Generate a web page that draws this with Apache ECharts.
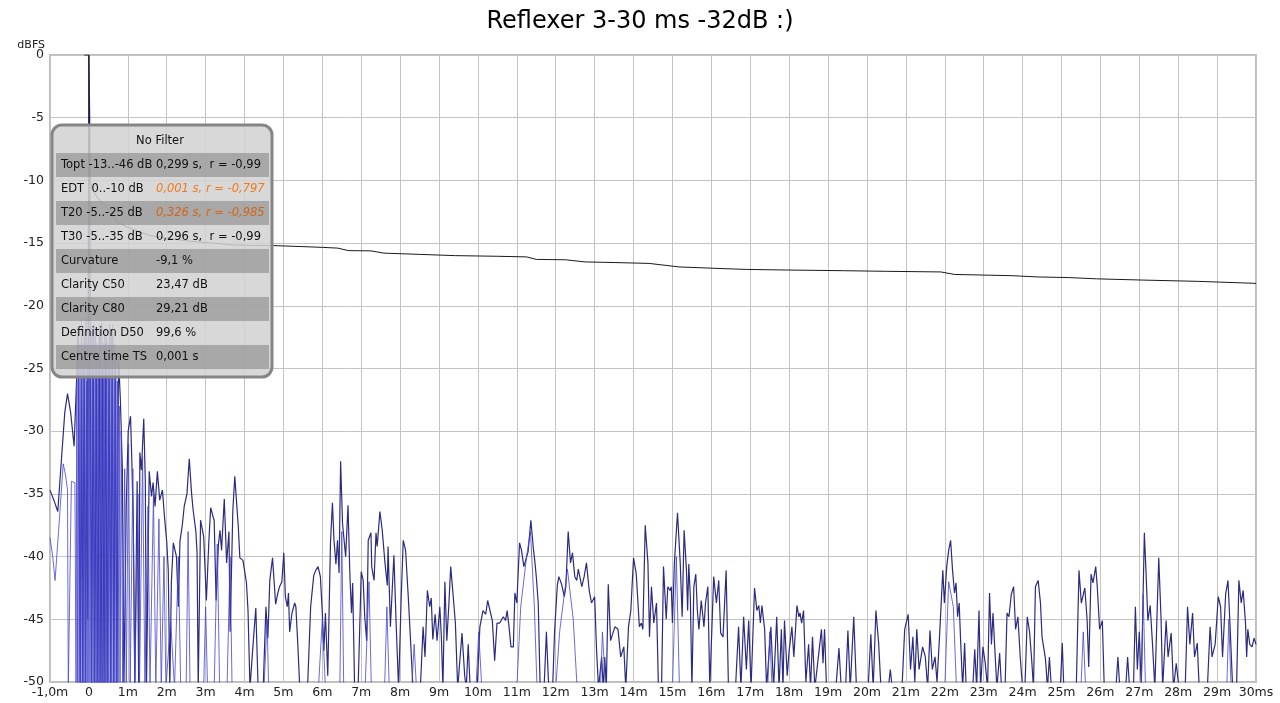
<!DOCTYPE html>
<html>
<head>
<meta charset="utf-8">
<script src="https://cdn.jsdelivr.net/npm/echarts@6/dist/echarts.min.js"></script>
<style>
html,body{margin:0;padding:0;background:#fff;}
#chart{width:1280px;height:703px;}
</style>
</head>
<body>
<div id="chart"></div>
<script>
// ---------- DATA ----------
const chartTitle = "Reflexer 3-30 ms -32dB :)";
const yTicks = [0, -5, -10, -15, -20, -25, -30, -35, -40, -45, -50];

// ETC (dark trace) [time ms, dBFS]
const etcDarkEarly = [
 [-1.0,-34.7],[-0.9,-35.5],[-0.8,-36.4],[-0.7,-32],[-0.62,-28.5],[-0.55,-27.0],[-0.47,-28.5],[-0.38,-31.2],
 [-0.32,-26.2],[-0.28,-22],[-0.25,-35],[-0.22,-50.5],[-0.19,-24],[-0.16,-50.5],[-0.12,-22.5],[-0.09,-50.5],
 [-0.05,-26],[-0.03,-45],[-0.01,-10],[0.0,0],[0.02,-5],[0.04,-26],[0.07,-50.5],[0.11,-23],[0.15,-50.5],
 [0.19,-24],[0.23,-50.5],[0.27,-22],[0.31,-50.5],[0.35,-25],[0.39,-50.5],[0.43,-23],[0.47,-50.5],[0.52,-24],
 [0.56,-50.5],[0.6,-22.5],[0.64,-50.5],[0.68,-25],[0.72,-50.5],[0.76,-24],[0.81,-27.6],[0.86,-33],[0.9,-50.5],
 [0.96,-36],[1.01,-30],[1.07,-28.8],[1.1,-32],[1.14,-37],[1.18,-50.5],[1.24,-34],[1.28,-50.5],[1.31,-31.7],
 [1.35,-33.1],[1.41,-29.0],[1.45,-34],[1.48,-50.5],[1.55,-33.2],[1.61,-35.2],[1.65,-34.1],[1.7,-36],[1.76,-33.2],
 [1.82,-35.5],[1.89,-34.7],[1.95,-37.1],[2.0,-38.8],[2.04,-41.1],[2.08,-50.5],[2.12,-42],[2.17,-38.9],[2.25,-40],
 [2.3,-44],[2.34,-38.8],[2.4,-37.5],[2.45,-36.0],[2.52,-35],[2.58,-32.2],[2.64,-35],[2.68,-36.3],[2.75,-38],
 [2.78,-39.7],[2.81,-50.5],[2.87,-37.1],[2.92,-37.9],[2.95,-38.4],[3.02,-43.5],[3.08,-39],[3.13,-36.1],[3.19,-36.8],
 [3.22,-37.1],[3.27,-43.5],[3.33,-39],[3.37,-37.9],[3.41,-39.5],[3.48,-35.4],[3.54,-40.5],[3.6,-38.0],[3.63,-46],
 [3.7,-36.3],[3.75,-33.6],[3.81,-36.3],[3.84,-37.6],[3.88,-40.1],[3.96,-40.3],[4.0,-41.1],[4.05,-42.1],[4.09,-44.3],
 [4.14,-50.5],[4.22,-47],[4.29,-44.1],[4.35,-50.5],[4.48,-50.5],[4.55,-44],[4.6,-46.5],[4.65,-41.9],[4.72,-40.1],
 [4.8,-43.8],[4.85,-43],[4.9,-42.4],[4.96,-42],[5.01,-39.7],[5.05,-43.2],[5.1,-44],[5.13,-42.9],[5.16,-46],
 [5.22,-44.5],[5.29,-43.7],[5.32,-44],[5.37,-47],[5.42,-50.5]
];
const etcDarkMid = [
 [5.62,-50.5],[5.7,-44],[5.78,-41.5],[5.83,-41.1],[5.89,-40.8],[5.95,-41.6],[6.0,-44.5],[6.04,-47.5],[6.08,-44.5],
 [6.14,-49.5],[6.21,-38.9],[6.26,-35.7],[6.3,-38.7],[6.35,-40.6],[6.39,-38.7],[6.43,-41.3],[6.47,-32.4],[6.52,-37.4],
 [6.56,-38.7],[6.6,-40],[6.66,-35.9],[6.71,-41.6],[6.75,-44.5],[6.78,-42.1],[6.83,-50.5],[6.92,-50.5],[7.0,-41.2],
 [7.05,-41.9],[7.09,-44.8],[7.14,-46.7],[7.18,-38.7],[7.25,-38.1],[7.27,-40.8],[7.33,-41.9],[7.38,-38.1],[7.41,-39.2],
 [7.48,-36.4],[7.54,-37.9],[7.61,-40.5],[7.67,-42.3],[7.69,-39.2],[7.75,-45.6],[7.84,-39.9],[7.9,-45.6],[7.96,-50.5],
 [8.03,-43],[8.08,-38.7],[8.14,-39.5],[8.2,-42.7],[8.24,-45],[8.29,-45],[8.33,-50.5],[8.52,-50.5],[8.59,-45.6],
 [8.64,-48],[8.7,-42.7],[8.76,-44],[8.8,-43.3],[8.84,-46.6],[8.9,-44.6],[8.95,-46.7],[9.02,-44],[9.06,-46.4],
 [9.1,-50.5],[9.15,-42.0],[9.2,-46.7],[9.25,-44],[9.3,-40.8],[9.36,-43],[9.42,-45.3],[9.48,-50.5],[9.59,-46.1],
 [9.66,-49.5],[9.7,-50.5],[9.75,-47],[9.8,-50.5],[9.98,-50.5],[10.05,-45.6],[10.13,-44.3],[10.2,-44.6],[10.25,-43.5],
 [10.3,-43.5],[10.37,-45.1],[10.43,-48.3],[10.49,-45.3],[10.56,-45.3],[10.65,-44.8],[10.71,-45.1],[10.75,-44.3],
 [10.8,-45.6],[10.85,-47.2],[10.91,-47.2],[10.95,-42.9],[11.0,-43.7],[11.07,-38.9],[11.12,-39.5],[11.18,-40.8],
 [11.23,-40.8],[11.29,-39.6],[11.36,-37.1],[11.42,-39.2],[11.46,-40.3],[11.5,-41.6],[11.55,-43.7],[11.6,-50.5],
 [11.7,-50.5],[11.76,-46],[11.82,-50.5],[11.92,-50.5],[11.97,-46],[12.04,-42.3],[12.08,-41.6],[12.15,-42.2],
 [12.22,-43.2],[12.26,-42.4],[12.32,-38.0],[12.38,-40.5],[12.43,-39.7],[12.49,-41.6],[12.54,-41.9],[12.58,-41],
 [12.67,-42.4],[12.73,-41.6],[12.79,-40.5],[12.86,-42.7],[12.92,-43.7],[13.0,-43.2],[13.05,-47.5],[13.1,-50.5],
 [13.18,-48],[13.22,-50.5],[13.26,-48],[13.3,-50.5],[13.35,-42.2],[13.41,-46.7],[13.48,-46],[13.52,-45.6],
 [13.6,-45.8],[13.67,-48],[13.75,-47.2],[13.8,-50.5],[13.87,-45.6],[13.93,-44.3],[14.0,-40.1],[14.07,-41.4],
 [14.15,-45.6],[14.2,-45.3],[14.24,-45.8],[14.3,-37.5],[14.37,-40.5],[14.41,-46.4],[14.46,-42.4],[14.52,-45.3],
 [14.59,-43.7],[14.64,-50.5]
];
const etcDarkLate = [
 [14.72,-50.5],[14.77,-40.8],[14.84,-45],[14.88,-42.4],[14.94,-42.7],[14.97,-42.4],[15.0,-45.3],[15.05,-40.5],
 [15.13,-36.5],[15.2,-40.5],[15.25,-44.8],[15.3,-37.9],[15.36,-41.1],[15.39,-44.3],[15.42,-40.6],[15.46,-43.2],
 [15.5,-50.5],[15.55,-42.4],[15.6,-41.4],[15.64,-44.3],[15.68,-45.8],[15.74,-43.5],[15.81,-45.6],[15.85,-43.7],
 [15.91,-42.4],[15.96,-50.5],[16.06,-41.6],[16.13,-43.7],[16.19,-41.9],[16.24,-46.1],[16.3,-46.4],[16.38,-41.1],
 [16.44,-50.5],[16.62,-50.5],[16.7,-45.6],[16.76,-50.5],[16.83,-44.8],[16.9,-49],[16.96,-45.1],[17.02,-50.5],
 [17.11,-42.5],[17.17,-44.3],[17.22,-43.9],[17.26,-45.3],[17.3,-43.9],[17.37,-45.8],[17.42,-50.5],[17.53,-45.6],
 [17.6,-50.5],[17.68,-44.8],[17.74,-50.5],[17.8,-45.8],[17.84,-50.5],[17.88,-45.1],[17.95,-49.5],[18.0,-47.5],
 [18.07,-45.6],[18.12,-48],[18.2,-43.9],[18.25,-44.8],[18.28,-44.5],[18.32,-45.3],[18.37,-44.3],[18.43,-50],
 [18.5,-47],[18.55,-50.5],[18.6,-46.4],[18.66,-50.5],[18.83,-45.8],[18.87,-48.5],[18.91,-45.8],[18.96,-50.5],
 [19.2,-50.5],[19.28,-47.3],[19.34,-50.5],[19.45,-50.5],[19.51,-45.9],[19.57,-50.5],[19.66,-44.8],[19.73,-50.5],
 [20.03,-50.5],[20.1,-46.2],[20.16,-50.5],[20.23,-44.3],[20.3,-46.9],[20.36,-50.5],[20.55,-50.5],[20.6,-49],
 [20.65,-50.5],[20.9,-50.5],[20.97,-45.8],[21.06,-44.6],[21.12,-49],[21.18,-46.4],[21.23,-50],[21.28,-45.8],
 [21.34,-49],[21.43,-47.2],[21.5,-48],[21.56,-50.5],[21.62,-45.9],[21.68,-49],[21.75,-48],[21.8,-50],[21.86,-46.7],
 [21.95,-41.1],[21.99,-43.7],[22.05,-40.8],[22.1,-39.5],[22.15,-38.7],[22.2,-41.1],[22.25,-42.9],[22.29,-42.1],
 [22.33,-44.8],[22.37,-43.7],[22.41,-46.9],[22.46,-50.5],[22.51,-46.9],[22.55,-50.5],[22.72,-50.5],[22.77,-47.4],
 [22.82,-50.5],[22.88,-44.3],[22.92,-50.5],[22.98,-47.2],[23.04,-48.5],[23.1,-50.5],[23.15,-42.9],[23.2,-47],
 [23.24,-44.5],[23.28,-47],[23.34,-50.5],[23.41,-47.7],[23.46,-50.5],[23.55,-50.5],[23.6,-44.5],[23.65,-44.8],
 [23.71,-43],[23.77,-42.4],[23.82,-45.8],[23.88,-44.8],[23.94,-48],[24.0,-50.5],[24.06,-50.5],[24.12,-44.8],
 [24.18,-46],[24.24,-48.5],[24.28,-50.5],[24.33,-42.4],[24.4,-41.9],[24.46,-43.7],[24.5,-46.4],[24.59,-48.2],
 [24.64,-50.5],[24.69,-48],[24.74,-50.5],[24.97,-50.5],[25.02,-46.9],[25.06,-50.5],[25.38,-50.5],[25.45,-41.1],
 [25.51,-43.7],[25.6,-42.5],[25.66,-45.1],[25.7,-48.8],[25.76,-41.4],[25.81,-42.1],[25.88,-40.8],[25.92,-42.4],
 [25.98,-45.8],[26.05,-45.1],[26.1,-50.5],[26.4,-50.5],[26.45,-48],[26.5,-50.5],[26.65,-50.5],[26.7,-48],
 [26.75,-50.5],[26.85,-50.5],[26.9,-44],[26.95,-49],[27.0,-46],[27.05,-50.5],[27.13,-38.1],[27.17,-41],
 [27.22,-45.1],[27.28,-43.9],[27.34,-47],[27.4,-50.5],[27.5,-40.1],[27.56,-45],[27.6,-50.5],[27.69,-45.1],
 [27.74,-48],[27.82,-46.1],[27.88,-50.5],[27.95,-48.5],[28.02,-50.5],[28.18,-50.5],[28.24,-44.0],[28.3,-47],
 [28.37,-44.5],[28.42,-48],[28.49,-46.9],[28.54,-50.5],[28.75,-50.5],[28.82,-45.6],[28.87,-48],[28.95,-47],
 [29.03,-43.2],[29.09,-44],[29.14,-48],[29.22,-43],[29.28,-41.9],[29.34,-46],[29.4,-50.5],[29.5,-50.5],
 [29.56,-41.9],[29.62,-43.7],[29.67,-42.7],[29.73,-45.3],[29.76,-48],[29.79,-45.8],[29.84,-47],[29.9,-47.2],
 [29.95,-46.5],[30.0,-47]
];

// Lighter companion trace [time ms, dBFS]
const etcLight = [
 [-1.0,-38.5],[-0.93,-40],[-0.87,-41.9],[-0.78,-38],[-0.66,-32.6],[-0.6,-33.5],[-0.55,-34.7],[-0.53,-50.5],
 [-0.45,-34],[-0.36,-34.1],[-0.33,-50.5],[-0.31,-26],[-0.29,-50.5],[-0.27,-24],[-0.25,-50.5],[-0.23,-23],
 [-0.21,-50.5],[-0.19,-21],[-0.17,-50.5],[-0.15,-23],[-0.13,-50.5],[-0.11,-22],[-0.09,-50.5],[-0.07,-21],
 [-0.05,-50.5],[-0.03,-23],[-0.02,-50.5],[0.01,-24],[0.03,-50.5],[0.05,-21.5],[0.07,-50.5],[0.09,-22],
 [0.11,-50.5],[0.13,-21.5],[0.15,-50.5],[0.17,-22],[0.19,-50.5],[0.21,-23],[0.23,-50.5],[0.25,-24],[0.27,-50.5],
 [0.29,-21.5],[0.31,-50.5],[0.33,-21.3],[0.35,-50.5],[0.37,-23],[0.39,-50.5],[0.41,-22],[0.43,-50.5],[0.45,-22.5],
 [0.47,-50.5],[0.49,-23],[0.51,-50.5],[0.53,-21.5],[0.55,-50.5],[0.57,-22],[0.59,-50.5],[0.61,-21.5],[0.63,-50.5],
 [0.65,-23],[0.67,-50.5],[0.69,-24],[0.71,-50.5],[0.73,-26],[0.75,-50.5],[0.78,-28],[0.8,-50.5],[0.83,-30],
 [0.87,-50.5],[0.92,-33],[0.96,-50.5],[1.02,-31],[1.06,-50.5],[1.13,-33],[1.18,-50.5],[1.26,-35],[1.3,-50.5],
 [1.38,-32],[1.44,-50.5],[1.52,-36],[1.57,-50.5],[1.66,-35],[1.72,-50.5],[1.8,-37],[1.86,-50.5],[1.93,-40],
 [1.98,-50.5],[2.1,-45],[2.2,-50.5],[2.3,-40],[2.36,-50.5],[2.5,-50.5],[2.55,-38],[2.6,-50.5],[2.95,-50.5],
 [3.0,-44],[3.05,-50.5],[3.22,-50.5],[3.3,-39],[3.36,-50.5],[3.55,-50.5],[3.63,-40],[3.68,-50.5],[4.5,-50.5],
 [4.58,-45],[4.62,-50.5],[5.9,-50.5],[6.0,-45],[6.08,-50.5],[6.45,-50.5],[6.5,-38],[6.55,-50.5],[7.1,-50.5],
 [7.2,-42],[7.26,-50.5],[7.6,-50.5],[7.66,-44],[7.72,-50.5],[8.3,-50.5],[8.36,-47],[8.42,-50.5],[9.95,-50.5],
 [10.02,-46],[10.1,-50.5],[11.0,-50.5],[11.1,-44],[11.25,-40],[11.35,-38],[11.45,-44],[11.52,-50.5],[12.0,-50.5],
 [12.1,-46],[12.3,-41],[12.45,-45],[12.55,-50.5],[13.15,-50.5],[13.2,-46],[13.28,-50.5],[15.0,-50.5],[15.1,-40],
 [15.18,-50.5],[17.45,-50.5],[17.5,-46],[17.56,-50.5],[22.0,-50.5],[22.1,-42],[22.22,-44],[22.3,-50.5],
 [25.5,-50.5],[25.56,-46],[25.62,-50.5],[27.05,-50.5],[27.1,-43],[27.16,-50.5],[29.25,-50.5],[29.3,-45],[29.36,-50.5]
];

// Schroeder integral [time ms, dBFS]
const schroeder = [
 [-0.12,0],[-0.005,0],[0.01,-7],[0.04,-10],[0.07,-10.6],[0.2,-11.3],[0.4,-12],[0.54,-12.5],[0.71,-13.2],
 [0.9,-13.6],[1.05,-13.8],[1.3,-14.1],[1.57,-14.4],[2.0,-14.6],[2.6,-14.85],[3.2,-15.0],[3.7,-15.15],[4.3,-15.2],
 [4.75,-15.2],[5.5,-15.28],[6.0,-15.34],[6.4,-15.4],[6.67,-15.6],[7.25,-15.62],[7.58,-15.8],[8.5,-15.9],
 [9.42,-16.0],[10.5,-16.05],[11.25,-16.1],[11.5,-16.3],[12.25,-16.33],[12.75,-16.5],[13.5,-16.55],[14.4,-16.62],
 [15.17,-16.9],[16.0,-17.0],[16.9,-17.1],[18.0,-17.15],[19.4,-17.2],[20.5,-17.25],[21.9,-17.3],[22.25,-17.5],
 [23.0,-17.55],[23.75,-17.6],[24.4,-17.7],[25.2,-17.75],[25.9,-17.85],[27.1,-17.95],[28.5,-18.05],[29.9,-18.2],[30,-18.22]
];

// Info box content
const boxTitle = "No Filter";
const boxLabels = ["Topt -13..-46 dB","EDT  0..-10 dB","T20 -5..-25 dB","T30 -5..-35 dB","Curvature","Clarity C50","Clarity C80","Definition D50","Centre time TS"];
const boxValues = ["0,299 s,  r = -0,999","0,001 s, r = -0,797","0,326 s, r = -0,985","0,296 s,  r = -0,996","-9,1 %","23,47 dB","29,21 dB","99,6 %","0,001 s"];
const boxHighlight = [false,true,true,false,false,false,false,false,false];

// ---------- CHART ----------
const FONT = "DejaVu Sans";
const chart = echarts.init(document.getElementById('chart'), null, {renderer:'canvas'});

const box = {x:52, y:125, w:220, h:252};
const boxFont = '11.5px "DejaVu Sans"';
const boxEls = [];
boxEls.push({type:'rect', shape:{x:box.x, y:box.y, width:box.w, height:box.h, r:10},
  style:{fill:'rgba(210,210,210,0.86)', stroke:'#858585', lineWidth:3}, z:100});
boxEls.push({type:'text', x:box.x+box.w/2-2, y:141, z:102,
  style:{text:boxTitle, font:boxFont, fill:'#111', textAlign:'center', textVerticalAlign:'middle'}});
boxLabels.forEach((lab,i)=>{
  const cy = 165 + i*24;
  if (i % 2 === 0) {
    boxEls.push({type:'rect', shape:{x:56, y:cy-12, width:213, height:24},
      style:{fill:'rgba(130,130,130,0.55)'}, z:101});
  }
  boxEls.push({type:'text', x:61, y:cy, z:102,
    style:{text:lab, font:boxFont, fill:'#111', textVerticalAlign:'middle'}});
  boxEls.push({type:'text', x:156, y:cy, z:102,
    style:{text:boxValues[i], font:(boxHighlight[i]?'italic ':'')+boxFont,
      fill: boxHighlight[i] ? (i===1?'#ee7a22':'#d2661c') : '#111',
      textVerticalAlign:'middle', width:112, overflow:'truncate', ellipsis:''}});
});

const option = {
  animation:false,
  backgroundColor:'#ffffff',
  title:{text:chartTitle, left:'center', top:5,
    textStyle:{fontFamily:FONT, fontSize:24, fontWeight:'normal', color:'#000'}},
  grid:{left:50, right:24, top:55, bottom:21, show:true, borderColor:'#bdbdbd', borderWidth:2, containLabel:false},
  xAxis:{type:'value', min:-1, max:30, interval:1,
    axisLine:{show:false}, axisTick:{show:false},
    splitLine:{show:true, lineStyle:{color:'#c4c4c4', width:1}},
    axisLabel:{fontFamily:FONT, fontSize:12.5, color:'#222', margin:4,
      formatter:function(v){ if(v===-1) return '-1,0m'; if(v===0) return '0'; if(v===30) return '30ms'; return v+'m'; }}},
  yAxis:{type:'value', min:-50, max:0, interval:5,
    axisLine:{show:false}, axisTick:{show:false},
    splitLine:{show:true, lineStyle:{color:'#c4c4c4', width:1}},
    axisLabel:{fontFamily:FONT, fontSize:12.5, color:'#222', margin:6,
      formatter:function(v){ return yTicks.indexOf(v)>=0 ? String(v) : ''; }}},
  graphic:[
    {type:'text', x:45, y:45, style:{text:'dBFS', font:'11px "DejaVu Sans"', fill:'#222', textAlign:'right', textVerticalAlign:'middle'}},
    {type:'group', children:boxEls}
  ],
  series:[
    {type:'line', data:etcDarkEarly.concat(etcDarkMid, etcDarkLate), showSymbol:false, clip:true,
      lineStyle:{color:'#2b2b80', width:1.2}, z:2},
    {type:'line', data:etcLight, showSymbol:false, clip:true,
      lineStyle:{color:'#4646d0', width:1, opacity:0.8}, z:3},
    {type:'line', data:schroeder, showSymbol:false, clip:true,
      lineStyle:{color:'#1a1a1a', width:1}, z:4}
  ]
};
chart.setOption(option);
</script>
</body>
</html>
